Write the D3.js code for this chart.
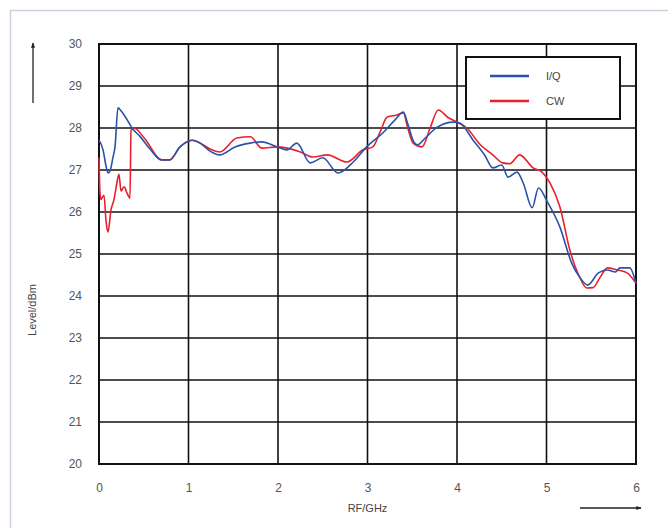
<!DOCTYPE html>
<html>
<head>
<meta charset="utf-8">
<script src="https://cdn.jsdelivr.net/npm/d3@7"></script>
<style>
  body { margin: 0; background: #fff; }
  text { font-family: 'Liberation Sans', Arial, sans-serif; }
</style>
</head>
<body>
<div id="chart"></div>
<script>
// Data (frequency in GHz, level in dBm)
const iqFreq = [0, 0.045, 0.078, 0.10, 0.123, 0.156, 0.179, 0.212, 0.257, 0.313, 0.369, 0.458, 0.57, 0.70, 0.79, 0.905,
  1.04, 1.13, 1.24, 1.35, 1.52, 1.69, 1.82, 1.99, 2.10, 2.21, 2.36, 2.50, 2.67, 2.84, 2.99,
  3.17, 3.31, 3.40, 3.45, 3.51, 3.56, 3.64, 3.78, 3.96, 4.03, 4.18, 4.31, 4.40, 4.50, 4.57, 4.67, 4.74, 4.84, 4.91,
  5.01, 5.15, 5.28, 5.37, 5.46, 5.58, 5.68, 5.77, 5.82, 5.93, 6.0];
const iqLevel = [27.71, 27.48, 27.1, 26.93, 26.98, 27.3, 27.55, 28.48, 28.38, 28.2, 28.0, 27.8, 27.5, 27.24, 27.24, 27.55,
  27.71, 27.64, 27.45, 27.36, 27.55, 27.64, 27.67, 27.55, 27.48, 27.64, 27.17, 27.29, 26.93, 27.19, 27.55,
  27.88, 28.2, 28.38, 28.1, 27.7, 27.6, 27.75, 28.02, 28.14, 28.12, 27.71, 27.35, 27.05, 27.12, 26.83, 26.95, 26.69, 26.1, 26.57,
  26.24, 25.64, 24.79, 24.45, 24.26, 24.55, 24.62, 24.57, 24.67, 24.67, 24.3];

const cwFreq = [0, 0.01, 0.02, 0.056, 0.078, 0.10, 0.134, 0.168, 0.20, 0.223, 0.246, 0.28, 0.313, 0.346, 0.358, 0.39, 0.51, 0.70, 0.79, 0.905,
  1.04, 1.13, 1.24, 1.35, 1.54, 1.69, 1.82, 1.99, 2.25, 2.39, 2.55, 2.77, 2.95,
  3.06, 3.14, 3.22, 3.33, 3.40, 3.45, 3.51, 3.61, 3.70, 3.79, 3.90, 4.00, 4.11, 4.26, 4.40, 4.51, 4.59, 4.70, 4.85, 4.95,
  5.04, 5.15, 5.26, 5.37, 5.45, 5.52, 5.60, 5.68, 5.79, 5.90, 6.0];
const cwLevel = [27.3, 26.5, 26.3, 26.4, 25.8, 25.52, 26.05, 26.3, 26.69, 26.9, 26.5, 26.6, 26.45, 26.33, 27.95, 28.0, 27.75, 27.24, 27.24, 27.55,
  27.71, 27.64, 27.5, 27.43, 27.76, 27.79, 27.52, 27.55, 27.43, 27.31, 27.36, 27.19, 27.48,
  27.55, 27.9, 28.26, 28.31, 28.36, 28.0, 27.64, 27.55, 28.0, 28.43, 28.25, 28.14, 28.0, 27.6, 27.36, 27.17, 27.15, 27.36, 27.05, 26.95,
  26.69, 26.12, 25.1, 24.45, 24.19, 24.2, 24.45, 24.67, 24.62, 24.55, 24.3];

const xTicks = [0, 1, 2, 3, 4, 5, 6];
const yTicks = [20, 21, 22, 23, 24, 25, 26, 27, 28, 29, 30];
const seriesNames = ['I/Q', 'CW'];
const seriesColors = ['#2a52a8', '#e8202c'];

// Layout
const svgW = 668, svgH = 528;
const marginLeft = 99, marginTop = 44, plotW = 537, plotH = 420;

const svg = d3.select('#chart')
  .append('svg')
  .attr('width', svgW)
  .attr('height', svgH);

// light outer frame (top and left edges visible)
svg.append('path')
  .attr('d', 'M10.5,' + svgH + 'V10.5H' + svgW)
  .attr('fill', 'none')
  .attr('stroke', '#c9d2dc')
  .attr('stroke-width', 1.5);

const g = svg.append('g').attr('transform', 'translate(' + marginLeft + ',' + marginTop + ')');

const x = d3.scaleLinear().domain([0, 6]).range([0, plotW]);
const y = d3.scaleLinear().domain([20, 30]).range([plotH, 0]);

// Grid
g.append('g')
  .selectAll('line')
  .data(xTicks)
  .enter()
  .append('line')
  .attr('x1', d => x(d)).attr('x2', d => x(d))
  .attr('y1', 0).attr('y2', plotH)
  .attr('stroke', '#111').attr('stroke-width', 1.6);

g.append('g')
  .selectAll('line')
  .data(yTicks)
  .enter()
  .append('line')
  .attr('x1', 0).attr('x2', plotW)
  .attr('y1', d => y(d)).attr('y2', d => y(d))
  .attr('stroke', '#111').attr('stroke-width', 1.6);

g.append('rect')
  .attr('width', plotW).attr('height', plotH)
  .attr('fill', 'none').attr('stroke', '#111').attr('stroke-width', 2);

// Axes (labels only)
const xAxis = g.append('g')
  .attr('transform', 'translate(0,' + (plotH + 16) + ')')
  .call(d3.axisBottom(x).tickValues(xTicks).tickSize(0).tickFormat(d3.format('d')));
const yAxis = g.append('g')
  .attr('transform', 'translate(-14,0)')
  .call(d3.axisLeft(y).tickValues(yTicks).tickSize(0).tickFormat(d3.format('d')));
[xAxis, yAxis].forEach(a => {
  a.attr('font-family', null);
  a.select('.domain').remove();
  a.selectAll('text').style('font-size', '12px').style('fill', '#555');
});

// Lines
const line = d3.line()
  .x(d => x(d[0]))
  .y(d => y(d[1]))
  .curve(d3.curveMonotoneX);

const iqData = iqFreq.map((f, i) => [f, iqLevel[i]]);
const cwData = cwFreq.map((f, i) => [f, cwLevel[i]]);

g.append('path')
  .datum(cwData)
  .attr('d', line)
  .attr('fill', 'none')
  .attr('stroke', seriesColors[1])
  .attr('stroke-width', 1.6);

g.append('path')
  .datum(iqData)
  .attr('d', line)
  .attr('fill', 'none')
  .attr('stroke', seriesColors[0])
  .attr('stroke-width', 1.6);

// Legend
const legend = svg.append('g').attr('transform', 'translate(466,57)');
legend.append('rect')
  .attr('width', 154).attr('height', 62)
  .attr('fill', '#fff').attr('stroke', '#111').attr('stroke-width', 2);
seriesNames.forEach((name, i) => {
  legend.append('line')
    .attr('x1', 24).attr('x2', 63)
    .attr('y1', 19 + i * 25).attr('y2', 19 + i * 25)
    .attr('stroke', seriesColors[i]).attr('stroke-width', 2.5);
  legend.append('text')
    .attr('x', 80).attr('y', 23 + i * 25)
    .style('font-size', '11px').style('fill', '#444')
    .text(name);
});

// Axis titles and arrows
svg.append('defs').append('marker')
  .attr('id', 'arrow')
  .attr('viewBox', '0 0 10 10')
  .attr('refX', 9).attr('refY', 5)
  .attr('markerWidth', 5).attr('markerHeight', 4)
  .attr('orient', 'auto')
  .append('path').attr('d', 'M0,1L10,5L0,9Z').attr('fill', '#222');

svg.append('text')
  .attr('x', marginLeft + x(3)).attr('y', 512)
  .attr('text-anchor', 'middle')
  .style('font-size', '11px').style('fill', '#444')
  .text('RF/GHz');

svg.append('line')
  .attr('x1', 580).attr('x2', 641).attr('y1', 508).attr('y2', 508)
  .attr('stroke', '#222').attr('stroke-width', 1.3)
  .attr('marker-end', 'url(#arrow)');

svg.append('text')
  .attr('transform', 'translate(36,310) rotate(-90)')
  .attr('text-anchor', 'middle')
  .style('font-size', '11px').style('fill', '#444')
  .text('Level/dBm');

svg.append('line')
  .attr('x1', 33).attr('x2', 33).attr('y1', 103).attr('y2', 43)
  .attr('stroke', '#222').attr('stroke-width', 1.3)
  .attr('marker-end', 'url(#arrow)');
</script>
</body>
</html>
